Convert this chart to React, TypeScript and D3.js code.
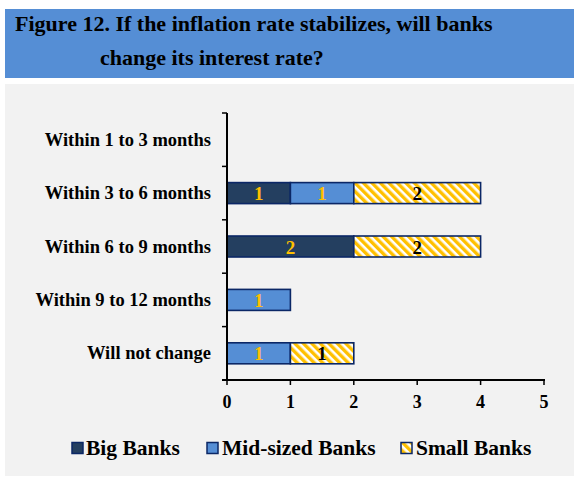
import React from "react";
import * as d3 from "d3";

const categories = [
  "Within 1 to 3 months",
  "Within 3 to 6 months",
  "Within 6 to 9 months",
  "Within 9 to 12 months",
  "Will not change",
];
const seriesNames = ["Big Banks", "Mid-sized Banks", "Small Banks"];
const bigBanks = [0, 1, 2, 0, 0];
const midBanks = [0, 1, 0, 1, 1];
const smallBanks = [0, 2, 2, 0, 1];
const xTicks = [0, 1, 2, 3, 4, 5];
const titleLines = [
  "Figure 12. If the inflation rate stabilizes, will banks",
  "change its interest rate?",
];

const W = 574;
const H = 479;
const FONT = "'Liberation Serif', 'Times New Roman', serif";
const fills = ["#243F60", "#558ED5", "url(#smallPattern)"];
const labelColors = ["#FFC000", "#FFC000", "#000000"];

export default function App() {
  const x = d3.scaleLinear().domain([0, 5]).range([227, 544]);
  const y = d3.scaleBand().domain(categories).range([113, 380]).paddingInner(0).paddingOuter(0);
  const barH = 21;

  const stackData = categories.map((c, i) => ({
    cat: c,
    s0: bigBanks[i],
    s1: midBanks[i],
    s2: smallBanks[i],
  }));
  const stack = d3.stack<any>().keys(["s0", "s1", "s2"]);
  const layers = stack(stackData);

  const boundaries = categories.map((c) => y(c)!).concat([y.range()[1]]);

  const legendX = [72, 207, 401];
  const legendTextX = [86, 222, 416];
  const legendY = 448;

  return (
    <svg
      width={W}
      height={H}
      style={{ position: "absolute", left: 0, top: 0 }}
      fontFamily={FONT}
    >
      <defs>
        <pattern
          id="smallPattern"
          patternUnits="userSpaceOnUse"
          width={6}
          height={6}
          patternTransform="rotate(-45)"
        >
          <rect width={6} height={6} fill="#FFFFFF" />
          <rect width={3.4} height={6} fill="#FFC000" />
        </pattern>
      </defs>
      <rect x={0} y={0} width={W} height={H} fill="#FFFFFF" />
      <rect x={5} y={9} width={W - 5} height={69} fill="#558ED5" />
      <text x={15} y={31} fontSize={22} fontWeight="bold" fill="#000">
        {titleLines[0]}
      </text>
      <text x={100} y={65} fontSize={22} fontWeight="bold" fill="#000">
        {titleLines[1]}
      </text>
      <rect x={5} y={84} width={W - 5} height={392} fill="#F2F2F2" />

      {layers.map((layer, li) =>
        layer.map((d, i) => {
          const v = d[1] - d[0];
          if (v <= 0) return null;
          const cy = y(categories[i])! + y.bandwidth() / 2;
          return (
            <g key={`${li}-${i}`}>
              <rect
                x={x(d[0])}
                y={cy - barH / 2}
                width={x(d[1]) - x(d[0])}
                height={barH}
                fill={fills[li]}
                stroke="#0B2766"
                strokeWidth={1.6}
              />
              <text
                x={(x(d[0]) + x(d[1])) / 2}
                y={cy + 7}
                textAnchor="middle"
                fontSize={19}
                fontWeight="bold"
                fill={labelColors[li]}
              >
                {v}
              </text>
            </g>
          );
        })
      )}

      {/* y axis */}
      <line x1={x(0)} x2={x(0)} y1={113} y2={380} stroke="#000" strokeWidth={2} />
      {boundaries.map((b, i) => (
        <line key={i} x1={x(0) - 5} x2={x(0)} y1={b} y2={b} stroke="#000" strokeWidth={1.5} />
      ))}
      {categories.map((c) => (
        <text
          key={c}
          x={211}
          y={y(c)! + y.bandwidth() / 2 + 6}
          textAnchor="end"
          fontSize={18.5}
          fontWeight="bold"
          fill="#000"
        >
          {c}
        </text>
      ))}

      {/* x axis */}
      <line x1={x(0) - 5} x2={x(5) + 1} y1={380} y2={380} stroke="#000" strokeWidth={2} />
      {xTicks.map((t) => (
        <g key={t}>
          <line x1={x(t)} x2={x(t)} y1={380} y2={385} stroke="#000" strokeWidth={1.5} />
          <text
            x={x(t)}
            y={407.5}
            textAnchor="middle"
            fontSize={18}
            fontWeight="bold"
            fill="#000"
          >
            {t}
          </text>
        </g>
      ))}

      {/* legend */}
      {seriesNames.map((s, i) => (
        <g key={s}>
          <rect
            x={legendX[i]}
            y={legendY - 5.5}
            width={11}
            height={11}
            fill={fills[i]}
            stroke="#0B2766"
            strokeWidth={1.5}
          />
          <text
            x={legendTextX[i]}
            y={legendY + 7}
            fontSize={21.5}
            fontWeight="bold"
            fill="#000"
          >
            {s}
          </text>
        </g>
      ))}
    </svg>
  );
}
